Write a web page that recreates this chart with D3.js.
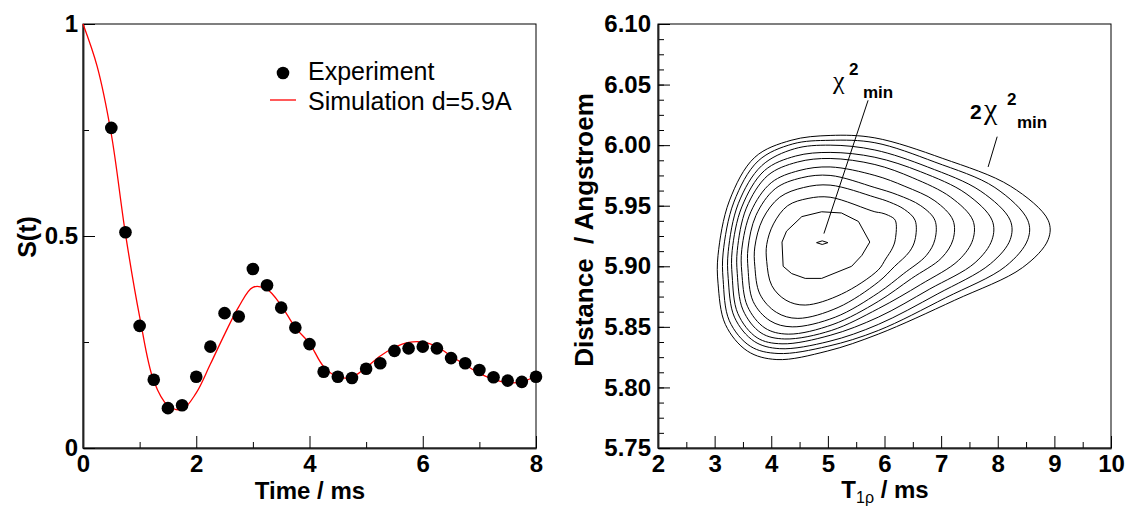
<!DOCTYPE html>
<html>
<head>
<meta charset="utf-8">
<script src="https://cdn.jsdelivr.net/npm/d3@7"></script>
<style>
  body { margin: 0; background: #fff; }
  text { font-family: "Liberation Sans", Arial, sans-serif; fill: #000; }
  .axis text { font-size: 24px; font-weight: bold; }
  .axis line { stroke: #000; stroke-width: 1; }
  .axis path { stroke: #222; stroke-width: 1.5; }
</style>
</head>
<body>
<div id="chart"></div>
<script>
// ---- left panel: S(t) decay ----
var expTime   = [0.5, 0.75, 1.0, 1.25, 1.5, 1.75, 2.0, 2.25, 2.5, 2.75, 3.0, 3.25, 3.5, 3.75, 4.0, 4.25,
                 4.5, 4.75, 5.0, 5.25, 5.5, 5.75, 6.0, 6.25, 6.5, 6.75, 7.0, 7.25, 7.5, 7.75, 8.0];
var expSignal = [0.755, 0.509, 0.288, 0.161, 0.094, 0.101, 0.168, 0.239, 0.318, 0.310, 0.422, 0.384, 0.331, 0.284, 0.245, 0.180,
                 0.168, 0.165, 0.187, 0.200, 0.229, 0.235, 0.239, 0.235, 0.212, 0.200, 0.184, 0.167, 0.159, 0.156, 0.168];

var simTime   = [0, 0.25, 0.5, 0.75, 1.0, 1.25, 1.5, 1.75, 2.0, 2.25, 2.5, 2.75, 3.0, 3.25, 3.5, 3.75, 4.0,
                 4.25, 4.5, 4.75, 5.0, 5.25, 5.5, 5.75, 6.0, 6.25, 6.5, 6.75, 7.0, 7.25, 7.5, 7.75, 8.0];
var simSignal = [1.000, 0.900, 0.740, 0.505, 0.310, 0.158, 0.100, 0.091, 0.130, 0.198, 0.268, 0.333, 0.379, 0.374, 0.336, 0.284, 0.247,
                 0.192, 0.168, 0.167, 0.190, 0.217, 0.237, 0.249, 0.250, 0.239, 0.217, 0.196, 0.176, 0.162, 0.154, 0.156, 0.170];

var leftXTicks = [0, 2, 4, 6, 8];
var leftYTicks = [0, 0.5, 1];

// ---- right panel: chi^2 contours (T1rho in ms, distance in Angstroem) ----
var contour0  = [[4.80,5.9195],[4.90,5.9210],[5.00,5.9195],[4.90,5.9180]];
var contour1  = [[4.19,5.920],[4.27,5.929],[4.54,5.941],[4.89,5.945],[5.24,5.944],[5.54,5.937],[5.74,5.920],[5.60,5.909],[5.42,5.900],[4.89,5.890],[4.60,5.890],[4.36,5.894],[4.21,5.900]];
var contour2  = [[3.92,5.918],[4.04,5.935],[4.29,5.950],[4.65,5.956],[5.04,5.957],[5.83,5.945],[5.95,5.944],[6.07,5.942],[6.19,5.938],[6.19,5.922],[6.14,5.915],[6.02,5.906],[5.89,5.897],[5.24,5.877],[4.60,5.868],[4.26,5.872],[4.01,5.884],[3.92,5.904]];
var contour3  = [[3.71,5.916],[3.85,5.939],[4.15,5.957],[4.57,5.965],[5.04,5.967],[5.83,5.957],[6.09,5.953],[6.35,5.947],[6.54,5.938],[6.54,5.922],[6.44,5.912],[6.18,5.900],[5.89,5.887],[5.18,5.866],[4.47,5.857],[4.09,5.862],[3.80,5.877],[3.71,5.900]];
var contour4  = [[3.59,5.915],[3.73,5.942],[4.07,5.964],[4.53,5.973],[5.04,5.975],[5.83,5.965],[6.23,5.959],[6.64,5.950],[6.89,5.938],[6.89,5.922],[6.74,5.909],[6.34,5.894],[5.89,5.878],[5.13,5.858],[4.37,5.850],[3.98,5.855],[3.68,5.871],[3.59,5.898]];
var contour5  = [[3.48,5.914],[3.64,5.945],[4.00,5.969],[4.49,5.979],[5.04,5.982],[5.83,5.975],[6.36,5.966],[6.89,5.954],[7.21,5.938],[7.21,5.922],[7.01,5.907],[6.48,5.890],[5.89,5.871],[5.09,5.852],[4.30,5.844],[3.89,5.849],[3.58,5.867],[3.48,5.895]];
var contour6  = [[3.40,5.913],[3.56,5.948],[3.94,5.975],[4.46,5.986],[5.04,5.989],[5.83,5.984],[6.50,5.973],[7.17,5.957],[7.56,5.938],[7.56,5.922],[7.31,5.905],[6.64,5.885],[5.89,5.865],[5.06,5.847],[4.24,5.840],[3.82,5.845],[3.50,5.864],[3.40,5.894]];
var contour7  = [[3.31,5.913],[3.48,5.949],[3.88,5.979],[4.43,5.991],[5.04,5.994],[5.83,5.990],[6.64,5.978],[7.44,5.960],[7.90,5.938],[7.90,5.922],[7.60,5.903],[6.79,5.881],[5.89,5.858],[5.04,5.843],[4.19,5.836],[3.75,5.841],[3.41,5.861],[3.31,5.892]];
var contour8  = [[3.24,5.912],[3.42,5.952],[3.83,5.983],[4.41,5.997],[5.04,6.000],[5.83,5.996],[6.76,5.982],[7.70,5.962],[8.22,5.938],[8.22,5.922],[7.87,5.902],[6.93,5.877],[5.89,5.852],[5.02,5.838],[4.15,5.832],[3.70,5.838],[3.35,5.858],[3.24,5.890]];
var contour9  = [[3.15,5.911],[3.34,5.953],[3.77,5.987],[4.38,6.001],[5.04,6.004],[5.83,6.002],[6.89,5.986],[7.95,5.965],[8.53,5.938],[8.53,5.922],[8.14,5.900],[7.08,5.874],[5.89,5.847],[5.00,5.834],[4.12,5.828],[3.63,5.834],[3.26,5.855],[3.15,5.889]];
var contour10 = [[3.06,5.909],[3.26,5.954],[3.71,5.990],[4.35,6.004],[5.04,6.008],[5.83,6.006],[7.03,5.989],[8.23,5.966],[8.89,5.938],[8.89,5.922],[8.44,5.899],[7.24,5.872],[5.89,5.844],[4.99,5.830],[4.10,5.823],[3.58,5.830],[3.19,5.852],[3.06,5.886]];

var rightXTicks = [2, 3, 4, 5, 6, 7, 8, 9, 10];
var rightYTicks = [5.75, 5.80, 5.85, 5.90, 5.95, 6.00, 6.05, 6.10];

// leader lines for the two chi^2 labels: [T1rho, distance]
var minLeader = [[5.71, 6.037], [4.93, 5.927]];
var twoMinLeader = [[7.99, 6.007], [7.83, 5.982]];

var width = 1130, height = 509;

var svg = d3.select('#chart')
            .append('svg')
            .attr('width', width)
            .attr('height', height);

//Create Scales
var x_left = d3.scaleLinear().domain([0, 8]).range([83, 536]);
var y_left = d3.scaleLinear().domain([0, 1]).range([448, 24]);
var x_right = d3.scaleLinear().domain([2, 10]).range([658, 1111]);
var y_right = d3.scaleLinear().domain([5.75, 6.10]).range([448, 24]);

// frame + ticks pointing inward, ROOT style
function drawFrame(x, y, xMajor, xMinor, yMajor, yMinor, xFmt, yFmt, yPad) {
    var x0 = x.range()[0], x1 = x.range()[1];
    var y0 = y.range()[1], y1 = y.range()[0];

    svg.append('rect')
        .attr('x', x0).attr('y', y0)
        .attr('width', x1 - x0).attr('height', y1 - y0)
        .attr('fill', 'none')
        .attr('stroke', '#000')
        .attr('stroke-width', 1);

    svg.append('g').attr('class', 'axis')
        .attr('transform', 'translate(0,' + y1 + ')')
        .call(d3.axisBottom(x).tickValues(xMinor).tickSize(-6).tickSizeOuter(0).tickFormat(''));
    svg.append('g').attr('class', 'axis')
        .attr('transform', 'translate(0,' + y1 + ')')
        .call(d3.axisBottom(x).tickValues(xMajor).tickSize(-12).tickSizeOuter(0).tickPadding(7).tickFormat(xFmt));

    svg.append('g').attr('class', 'axis')
        .attr('transform', 'translate(' + x0 + ',0)')
        .call(d3.axisLeft(y).tickValues(yMinor).tickSize(-6).tickSizeOuter(0).tickFormat(''));
    svg.append('g').attr('class', 'axis')
        .attr('transform', 'translate(' + x0 + ',0)')
        .call(d3.axisLeft(y).tickValues(yMajor).tickSize(-12).tickSizeOuter(0).tickPadding(yPad).tickFormat(yFmt));
}

drawFrame(x_left, y_left, leftXTicks, d3.range(1, 8, 2), leftYTicks, [0.25, 0.75],
          d3.format('d'), function(d) { return d === 0.5 ? '0.5' : d3.format('d')(d); }, 5);

drawFrame(x_right, y_right, rightXTicks, d3.range(2.5, 10, 1), rightYTicks,
          d3.range(0, 29).map(function(i) { return 5.75 + i * 0.0125; }),
          d3.format('d'), d3.format('.2f'), 7);

//Simulation curve
var simLine = d3.line()
                .x((d, i) => x_left(simTime[i]))
                .y((d) => y_left(d))
                .curve(d3.curveCatmullRom.alpha(0.5));

svg.append('path')
    .attr('d', simLine(simSignal))
    .attr('fill', 'none')
    .attr('stroke', '#ff0000')
    .attr('stroke-width', 1.3);

//Experiment points
svg.selectAll('circle.exp')
    .data(expSignal)
    .enter()
    .append('circle')
    .attr('class', 'exp')
    .attr('cx', (d, i) => x_left(expTime[i]))
    .attr('cy', (d) => y_left(d))
    .attr('r', 6.3)
    .attr('fill', '#000');

//Legend
svg.append('circle').attr('cx', 283).attr('cy', 73).attr('r', 6.3).attr('fill', '#000');
svg.append('line').attr('x1', 270).attr('x2', 296).attr('y1', 100).attr('y2', 100)
    .attr('stroke', '#ff0000').attr('stroke-width', 1.3);
svg.append('text').attr('x', 308).attr('y', 80).style('font-size', '25px').text('Experiment');
svg.append('text').attr('x', 308).attr('y', 110).style('font-size', '25px').text('Simulation d=5.9A');

//Contours
var contours = [contour10, contour9, contour8, contour7, contour6, contour5, contour4, contour3, contour2];
var smoothLine = d3.line()
                   .x((d) => x_right(d[0]))
                   .y((d) => y_right(d[1]))
                   .curve(d3.curveCatmullRomClosed.alpha(0.5));
var polyLine = d3.line()
                 .x((d) => x_right(d[0]))
                 .y((d) => y_right(d[1]))
                 .curve(d3.curveLinearClosed);

svg.selectAll('path.contour')
    .data(contours)
    .enter()
    .append('path')
    .attr('class', 'contour')
    .attr('d', (d) => smoothLine(d))
    .attr('fill', 'none')
    .attr('stroke', '#000')
    .attr('stroke-width', 1);

[contour1, contour0].forEach(function(c) {
    svg.append('path')
        .attr('d', polyLine(c))
        .attr('fill', 'none')
        .attr('stroke', '#000')
        .attr('stroke-width', 1);
});

//Leader lines
var leader = d3.line().x((d) => x_right(d[0])).y((d) => y_right(d[1]));
[minLeader, twoMinLeader].forEach(function(l) {
    svg.append('path').attr('d', leader(l)).attr('stroke', '#000').attr('stroke-width', 1).attr('fill', 'none');
});

//chi^2 labels
function chiLabel(px, py, prefix, chiSize, supDx, subDx) {
    var g = svg.append('g').attr('transform', 'translate(' + px + ',' + py + ')');
    var cx = 0;
    if (prefix) {
        g.append('text').attr('x', 0).attr('y', 0)
            .style('font-size', '21px').style('font-weight', 'bold').text(prefix);
        cx = 14;
    }
    g.append('text').attr('x', cx).attr('y', 0)
        .style('font-family', '"Liberation Serif", "DejaVu Serif", serif')
        .style('font-size', chiSize + 'px').text('\u03c7');
    g.append('text').attr('x', cx + supDx).attr('y', -14)
        .style('font-size', '17px').style('font-weight', 'bold').text('2');
    g.append('text').attr('x', cx + subDx).attr('y', 9)
        .style('font-size', '17px').style('font-weight', 'bold').text('min');
}
chiLabel(x_right(5.09), y_right(6.046), null, 26, 16, 30);
chiLabel(x_right(7.51), y_right(6.0215), '2', 30, 23, 33);

//Axis titles
svg.append('text')
    .attr('transform', 'translate(36,237) rotate(-90)')
    .attr('text-anchor', 'middle')
    .style('font-size', '25px').style('font-weight', 'bold')
    .text('S(t)');

svg.append('text')
    .attr('x', 310).attr('y', 499)
    .attr('text-anchor', 'middle')
    .style('font-size', '24px').style('font-weight', 'bold')
    .text('Time / ms');

svg.append('text')
    .attr('transform', 'translate(593,230) rotate(-90)')
    .attr('text-anchor', 'middle')
    .style('font-size', '26px').style('font-weight', 'bold')
    .text('Distance\u00a0\u00a0/ Angstroem');

var t1 = svg.append('text')
    .attr('x', 885).attr('y', 498)
    .attr('text-anchor', 'middle')
    .style('font-size', '24px').style('font-weight', 'bold');
t1.append('tspan').text('T');
t1.append('tspan').attr('dy', 5).style('font-size', '16px').style('font-weight', 'normal').text('1\u03c1');
t1.append('tspan').attr('dy', -5).text(' / ms');
</script>
</body>
</html>
